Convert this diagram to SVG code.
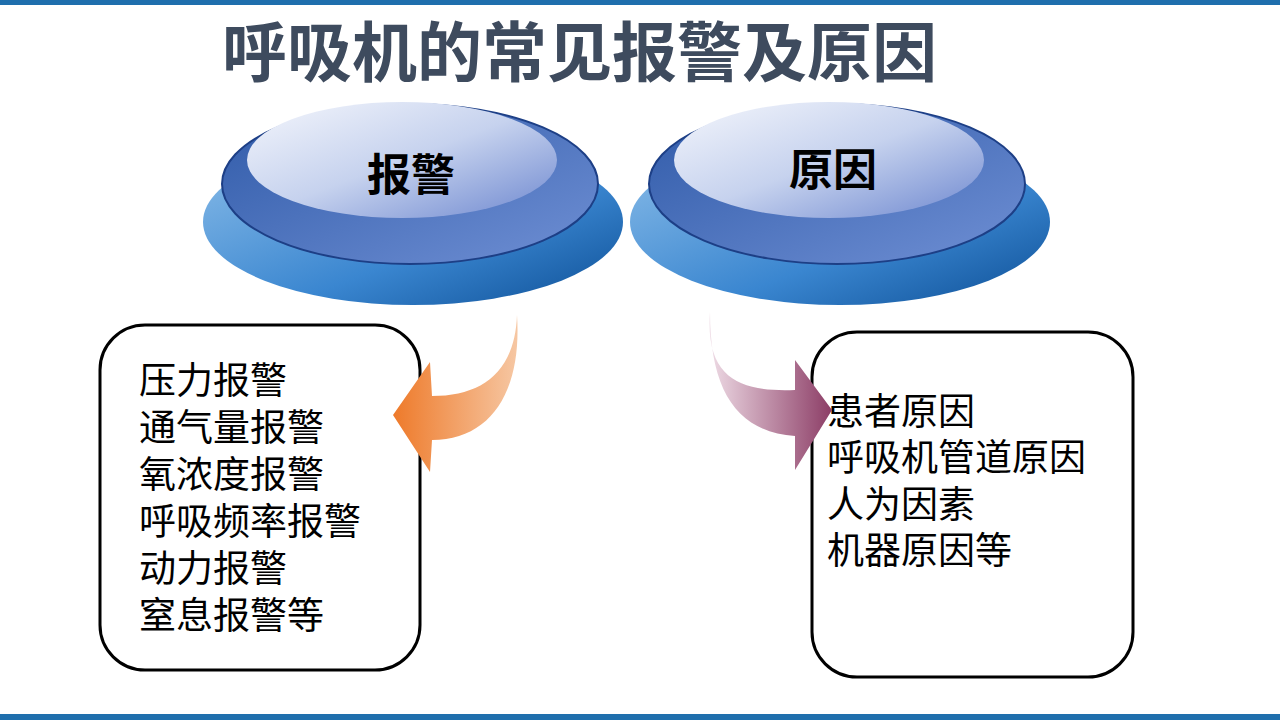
<svg xmlns="http://www.w3.org/2000/svg" width="1280" height="720" viewBox="0 0 1280 720">
<style>
.t{font-family:"Noto Sans CJK SC","Noto Sans",sans-serif}
.item{font-size:37px;fill:#000}
.lbl{font-size:44px;font-weight:bold;fill:#000}
.box{fill:#fff;stroke:#000;stroke-width:3}
</style>
<defs>
<linearGradient id="base" x1="0" y1="0" x2="1" y2="1">
<stop offset="0" stop-color="#8fc0ea"/><stop offset="0.6" stop-color="#3a86d0"/><stop offset="1" stop-color="#0d4f96"/>
</linearGradient>
<linearGradient id="top" x1="0" y1="0" x2="1" y2="1">
<stop offset="0" stop-color="#2f5aa8"/><stop offset="1" stop-color="#6f8fd4"/>
</linearGradient>
<linearGradient id="inner" x1="0" y1="0" x2="1" y2="1">
<stop offset="0" stop-color="#f4f6fc"/><stop offset="0.5" stop-color="#c6d2ee"/><stop offset="1" stop-color="#6d87cf"/>
</linearGradient>
<linearGradient id="org" x1="1" y1="0" x2="0" y2="0">
<stop offset="0" stop-color="#f6c7a3"/><stop offset="1" stop-color="#ee7a2a"/>
</linearGradient>
<linearGradient id="pur" x1="0" y1="0" x2="1" y2="0">
<stop offset="0" stop-color="#eedbe5"/><stop offset="1" stop-color="#8c3d66"/>
</linearGradient>
</defs>
<rect x="0" y="0" width="1280" height="5" fill="#1f6fad"/>
<rect x="0" y="714" width="1280" height="6" fill="#1f6fad"/>
<text class="t" x="222" y="76" font-size="65" font-weight="bold" fill="#3e4b5e">呼吸机的常见报警及原因</text>
<g id="node-alarm">
<ellipse cx="413" cy="222" rx="210" ry="83" fill="url(#base)"/>
<ellipse cx="410" cy="184" rx="188" ry="80" fill="url(#top)" stroke="#1d3f86" stroke-width="2"/>
<ellipse cx="402" cy="160" rx="155" ry="58" fill="url(#inner)"/>
<text class="t lbl" x="411" y="191" text-anchor="middle">报警</text>
</g>
<g id="node-cause">
<ellipse cx="840" cy="222" rx="210" ry="83" fill="url(#base)"/>
<ellipse cx="837" cy="184" rx="188" ry="80" fill="url(#top)" stroke="#1d3f86" stroke-width="2"/>
<ellipse cx="829" cy="160" rx="155" ry="58" fill="url(#inner)"/>
<text class="t lbl" x="833" y="186" text-anchor="middle">原因</text>
</g>
<g id="node-alarm-list">
<rect class="box" x="100" y="325" width="320" height="345" rx="45"/>
<text class="t item" x="139" y="394">压力报警</text>
<text class="t item" x="139" y="441">通气量报警</text>
<text class="t item" x="139" y="488">氧浓度报警</text>
<text class="t item" x="139" y="535">呼吸频率报警</text>
<text class="t item" x="139" y="582">动力报警</text>
<text class="t item" x="139" y="629">窒息报警等</text>
</g>
<g id="node-cause-list">
<rect class="box" x="812" y="332" width="321" height="345" rx="45"/>
<text class="t item" x="827" y="425">患者原因</text>
<text class="t item" x="827" y="471">呼吸机管道原因</text>
<text class="t item" x="827" y="518">人为因素</text>
<text class="t item" x="827" y="564">机器原因等</text>
</g>
<g id="connectors">
<path d="M517,315 C515,372 482,396 432,396 L430,362 L393,415 L430,472 L432,440 C492,440 522,390 517,315 Z" fill="url(#org)"/>
<path d="M710,312 C705,380 742,392 795,390 L795,360 L832,410 L795,470 L795,436 C738,432 710,392 710,312 Z" fill="url(#pur)"/>
</g>
</svg>
